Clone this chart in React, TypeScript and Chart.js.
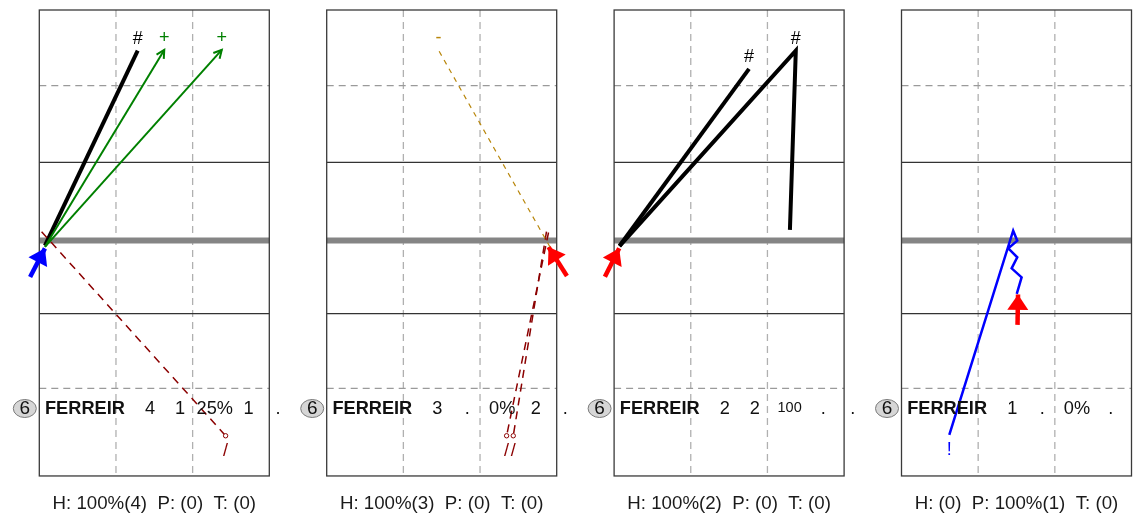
import React, { useEffect, useRef } from "react";
import { Chart, registerables } from "chart.js";

Chart.register(...registerables);

const FONT = '"Liberation Sans", Arial, Helvetica, sans-serif';

// ---------- court geometry (metres; y = distance from the net, negative = far side) ----------
const courtX = [0, 9];
const courtY = [-9, 9.2];
const zoneLinesX = [3, 6];
const deepLinesY = [-6.05, 5.78];
const attackLinesY = [-3.05, 2.86];
const netY = 0;

// ---------- text ----------
const playerNo = "6";
const playerName = "FERREIR";
const panelStats = [
  ["4", "1", "25%", "1", "."],
  ["3", ".", "0%", "2", "."],
  ["2", "2", "100", ".", "."],
  ["1", ".", "0%", "."],
];
const panelTitles = [
  "H: 100%(4)  P: (0)  T: (0)",
  "H: 100%(3)  P: (0)  T: (0)",
  "H: 100%(2)  P: (0)  T: (0)",
  "H: (0)  P: 100%(1)  T: (0)",
];

type Pt = [number, number];

// ---------- panel 1 ----------
const p1Start: Pt[] = [[-0.36, 1.43], [0.22, 0.31]];
const p1Kill: Pt[] = [[0.22, 0.2], [3.85, -7.41]];
const p1Pos1: Pt[] = [[0.22, 0.25], [4.89, -7.44]];
const p1Pos2: Pt[] = [[0.22, 0.25], [7.14, -7.44]];
const p1Err: Pt[] = [[0.09, -0.34], [7.29, 7.63]];

// ---------- panel 2 ----------
const p2Start: Pt[] = [[9.4, 1.39], [8.68, 0.26]];
const p2Neg: Pt[] = [[8.74, 0.26], [4.37, -7.44]];
const p2ErrA: Pt[] = [[8.6, -0.34], [7.3, 7.63]];
const p2ErrB: Pt[] = [[8.68, -0.31], [7.04, 7.63]];

// ---------- panel 3 ----------
const p3Start: Pt[] = [[-0.36, 1.42], [0.2, 0.31]];
const p3Kill1: Pt[] = [[0.21, 0.22], [5.28, -6.7]];
const p3Kill2: Pt[] = [[0.21, 0.22], [7.11, -7.41], [6.88, -0.41]];

// ---------- panel 4 ----------
const p4Start: Pt[] = [[4.54, 3.3], [4.56, 2.11]];
const p4Path: Pt[] = [
  [4.51, 2.09], [4.7, 1.44], [4.31, 1.09], [4.53, 0.66], [4.18, 0.31],
  [4.53, 0.01], [4.37, -0.38], [1.87, 7.6],
];

type Trace = { kind: string; pts: Pt[]; mark?: string; markAt?: number };

const panelTraces: Trace[][] = [
  [
    { kind: "error", pts: p1Err, mark: "/" },
    { kind: "positive", pts: p1Pos1, mark: "+" },
    { kind: "positive", pts: p1Pos2, mark: "+" },
    { kind: "kill", pts: p1Kill, mark: "#" },
    { kind: "startBlue", pts: p1Start },
  ],
  [
    { kind: "negative", pts: p2Neg, mark: "-" },
    { kind: "error", pts: p2ErrA, mark: "/" },
    { kind: "error", pts: p2ErrB, mark: "/" },
    { kind: "startRed", pts: p2Start },
  ],
  [
    { kind: "kill", pts: p3Kill1, mark: "#" },
    { kind: "kill", pts: p3Kill2, mark: "#", markAt: 1 },
    { kind: "startRed", pts: p3Start },
  ],
  [
    { kind: "poor", pts: p4Path, mark: "!" },
    { kind: "startRed", pts: p4Start },
  ],
];

const STYLE: Record<string, { color: string; width: number; dash?: number[]; head?: string; dot?: boolean }> = {
  startBlue: { color: "#0000ff", width: 4.5, head: "filled" },
  startRed: { color: "#ff0000", width: 4.5, head: "filled" },
  kill: { color: "#000000", width: 4 },
  positive: { color: "#008000", width: 2, head: "open" },
  error: { color: "#8b0000", width: 1.5, dash: [8, 6], dot: true },
  negative: { color: "#b8860b", width: 1.2, dash: [5, 5] },
  poor: { color: "#0000ff", width: 2.5 },
};

const SLOT = 287.4;
const PANEL_LEFT = 39.3;
const PANEL_W = 230;
const PAGE_W = 1133;
const PAGE_H = 516;

const courtPlugin = {
  id: "court",
  beforeDatasetsDraw(chart: any) {
    const { ctx, scales } = chart;
    const X = (v: number) => scales.x.getPixelForValue(v);
    const Y = (v: number) => scales.y.getPixelForValue(v);
    const top = Y(courtY[0]);
    const bottom = Y(courtY[1]);
    const left = X(courtX[0]);
    const right = X(courtX[1]);
    const seg = (x1: number, y1: number, x2: number, y2: number) => {
      ctx.beginPath();
      ctx.moveTo(x1, y1);
      ctx.lineTo(x2, y2);
      ctx.stroke();
    };
    ctx.save();
    ctx.lineWidth = 1.3;
    ctx.setLineDash([7, 5]);
    ctx.strokeStyle = "#b0b0b0";
    zoneLinesX.forEach((v) => seg(X(v), top, X(v), bottom));
    ctx.strokeStyle = "#9a9a9a";
    deepLinesY.forEach((v) => seg(left, Y(v), right, Y(v)));
    ctx.setLineDash([]);
    ctx.strokeStyle = "#333333";
    ctx.lineWidth = 1.2;
    attackLinesY.forEach((v) => seg(left, Y(v), right, Y(v)));
    ctx.strokeStyle = "#858585";
    ctx.lineWidth = 6;
    seg(left, Y(netY), right, Y(netY));
    ctx.strokeStyle = "#3a3a3a";
    ctx.lineWidth = 1.3;
    ctx.strokeRect(left, top, right - left, bottom - top);
    ctx.restore();
  },
};

const overlayPlugin = {
  id: "overlay",
  afterDatasetsDraw(chart: any) {
    const ctx = chart.ctx;
    const opts = chart.options.plugins.overlay;
    ctx.save();
    chart.data.datasets.forEach((ds: any, i: number) => {
      const pts = chart.getDatasetMeta(i).data;
      const n = pts.length;
      const a = pts[n - 2];
      const b = pts[n - 1];
      const ang = Math.atan2(b.y - a.y, b.x - a.x);
      if (ds.head === "filled") {
        const len = 15.5;
        const half = 10.5;
        const bx = b.x - len * Math.cos(ang);
        const by = b.y - len * Math.sin(ang);
        const nx = -Math.sin(ang);
        const ny = Math.cos(ang);
        ctx.fillStyle = ds.borderColor;
        ctx.beginPath();
        ctx.moveTo(b.x, b.y);
        ctx.lineTo(bx + nx * half, by + ny * half);
        ctx.lineTo(bx - nx * half, by - ny * half);
        ctx.closePath();
        ctx.fill();
      } else if (ds.head === "open") {
        const len = 9;
        const spread = (28 * Math.PI) / 180;
        ctx.strokeStyle = ds.borderColor;
        ctx.lineWidth = ds.borderWidth;
        ctx.setLineDash([]);
        ctx.beginPath();
        ctx.moveTo(b.x - len * Math.cos(ang - spread), b.y - len * Math.sin(ang - spread));
        ctx.lineTo(b.x, b.y);
        ctx.lineTo(b.x - len * Math.cos(ang + spread), b.y - len * Math.sin(ang + spread));
        ctx.stroke();
      }
      if (ds.mark) {
        const k = ds.markAt ?? n - 1;
        const p = pts[k];
        const prev = pts[k - 1];
        const up = p.y < prev.y;
        ctx.fillStyle = ds.borderColor;
        ctx.font = `18px ${FONT}`;
        ctx.textAlign = "center";
        ctx.textBaseline = "middle";
        ctx.fillText(ds.mark, p.x, p.y + (up ? -12 : 15));
      }
    });

    // player row
    const left = chart.chartArea.left;
    const rowY = 409;
    const cx = left - 14.5;
    ctx.fillStyle = "#d6d6d6";
    ctx.strokeStyle = "#7a7a7a";
    ctx.lineWidth = 1;
    ctx.beginPath();
    ctx.ellipse(cx, rowY - 0.5, 11.5, 9, 0, 0, Math.PI * 2);
    ctx.fill();
    ctx.stroke();
    ctx.fillStyle = "#111111";
    ctx.textBaseline = "middle";
    ctx.textAlign = "center";
    ctx.font = `19px ${FONT}`;
    ctx.fillText(playerNo, cx, rowY);
    ctx.textAlign = "left";
    ctx.font = `bold 18.2px ${FONT}`;
    ctx.fillText(playerName, left + 5.7, rowY);
    const cols = [110.7, 140.7, 175.5, 209.2, 238.7];
    ctx.textAlign = "center";
    (opts.stats as string[]).forEach((s, j) => {
      const small = s.length > 2 && !s.includes("%");
      ctx.font = `${small ? 14.5 : 18.2}px ${FONT}`;
      ctx.fillText(s, left + cols[j], rowY - (small ? 1.5 : 0));
    });
    ctx.restore();
  },
};

function buildConfig(index: number, padLeft: number, padRight: number): any {
  const traces = panelTraces[index];
  return {
    type: "line",
    data: {
      datasets: traces.map((t) => {
        const st = STYLE[t.kind];
        return {
          data: t.pts.map(([x, y]) => ({ x, y })),
          borderColor: st.color,
          backgroundColor: st.color,
          borderWidth: st.width,
          borderDash: st.dash ?? [],
          borderCapStyle: "butt",
          borderJoinStyle: "miter",
          tension: 0,
          fill: false,
          clip: false,
          pointRadius: t.pts.map((_, k) => (st.dot && k === t.pts.length - 1 ? 2.2 : 0)),
          pointBackgroundColor: "#ffffff",
          pointBorderColor: st.color,
          pointBorderWidth: 1,
          pointHitRadius: 0,
          head: st.head,
          mark: t.mark,
          markAt: t.markAt,
        };
      }),
    },
    options: {
      animation: false,
      responsive: true,
      maintainAspectRatio: false,
      events: [],
      layout: { padding: { left: padLeft, right: padRight, top: 10, bottom: 0 } },
      scales: {
        x: {
          type: "linear",
          min: courtX[0],
          max: courtX[1],
          grid: { display: false, drawTicks: false },
          border: { display: false },
          ticks: { display: false },
          title: {
            display: true,
            text: panelTitles[index],
            color: "#1a1a1a",
            font: { size: 18.7, family: FONT },
            padding: { top: 16.8, bottom: 0.8 },
          },
        },
        y: {
          type: "linear",
          min: courtY[0],
          max: courtY[1],
          reverse: true,
          display: false,
        },
      },
      plugins: {
        legend: { display: false },
        tooltip: { enabled: false },
        overlay: { stats: panelStats[index] },
      },
    },
    plugins: [courtPlugin, overlayPlugin],
  };
}

function Panel({ index }: { index: number }) {
  const ref = useRef<HTMLCanvasElement>(null);
  const left = Math.floor(index * SLOT);
  const next = index === 3 ? PAGE_W : Math.floor((index + 1) * SLOT);
  const width = next - left;
  const padLeft = PANEL_LEFT + (index * SLOT - left);
  const padRight = width - padLeft - PANEL_W;
  useEffect(() => {
    if (!ref.current) return;
    const chart = new Chart(ref.current, buildConfig(index, padLeft, padRight));
    return () => chart.destroy();
  }, [index, padLeft, padRight]);
  return (
    <div style={{ position: "absolute", left, top: 0, width, height: PAGE_H }}>
      <canvas ref={ref} />
    </div>
  );
}

export default function App() {
  return (
    <div
      style={{
        position: "absolute",
        left: 0,
        top: 0,
        width: PAGE_W,
        height: PAGE_H,
        overflow: "hidden",
        background: "#ffffff",
      }}
    >
      {[0, 1, 2, 3].map((i) => (
        <Panel key={i} index={i} />
      ))}
    </div>
  );
}
